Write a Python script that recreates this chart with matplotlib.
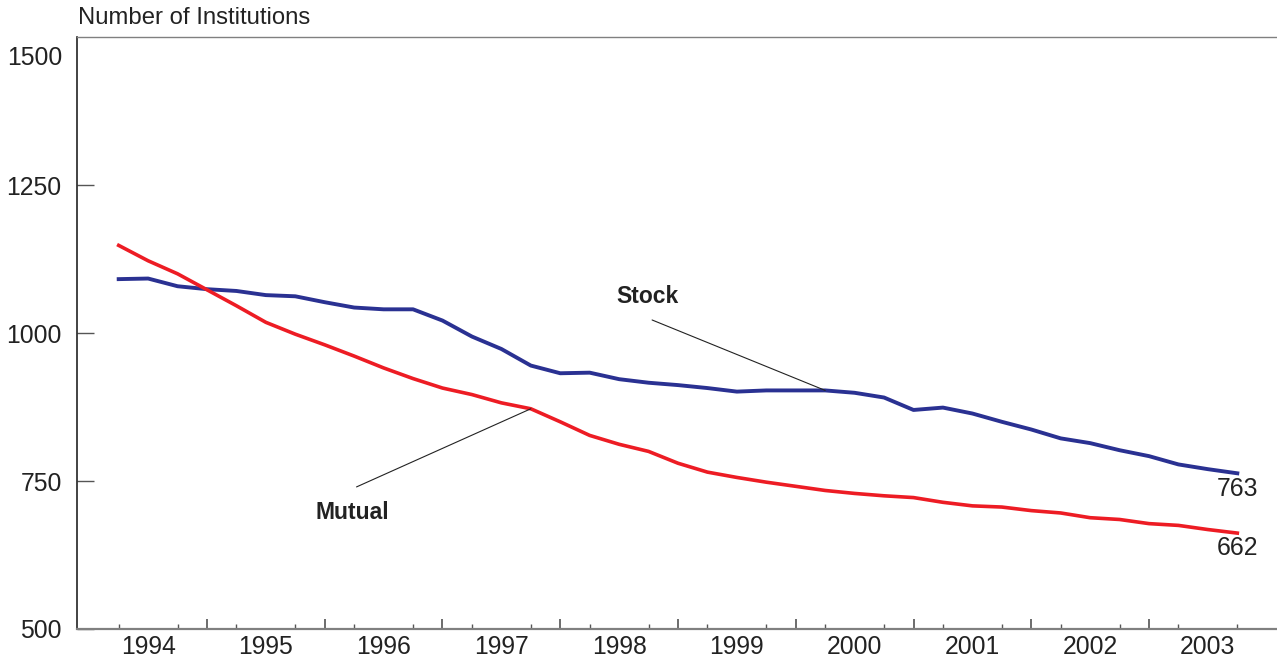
import matplotlib
matplotlib.use("Agg")
import matplotlib.pyplot as plt
import numpy as np

# quarterly data, 1994 Q1 .. 2003 Q3 (positions at quarter ends)
years = [1994, 1995, 1996, 1997, 1998, 1999, 2000, 2001, 2002, 2003]
stock = [1091, 1092, 1079, 1074, 1071, 1064, 1062, 1052, 1043, 1040,
         1040, 1021, 994, 973, 945, 932, 933, 922, 916, 912,
         907, 901, 903, 903, 903, 899, 891, 870, 874, 864,
         850, 837, 822, 814, 802, 792, 778, 770, 763]
mutual = [1148, 1122, 1100, 1073, 1046, 1018, 998, 980, 961, 941,
          923, 907, 896, 882, 872, 850, 827, 812, 800, 780,
          765, 756, 748, 741, 734, 729, 725, 722, 714, 708,
          706, 700, 696, 688, 685, 678, 675, 668, 662]
ytick_vals = [500, 750, 1000, 1250, 1500]
ylabel_text = "Number of Institutions"

t = 1994 + np.arange(1, len(stock) + 1) / 4.0

plt.rcParams['font.family'] = ['Liberation Sans', 'DejaVu Sans']
fig = plt.figure(figsize=(12.77, 6.59), dpi=100)
ax = fig.add_axes([77/1277, 1 - 629/659, 1 - 77/1277, (629 - 37)/659])

blue = '#2a3192'
red = '#ed1c24'
ax.plot(t, stock, color=blue, lw=2.8, solid_joinstyle='round')
ax.plot(t, mutual, color=red, lw=2.6, solid_joinstyle='round')

ax.set_xlim(1993.896, 2004.087)
ax.set_ylim(500, 1500)

# spines
ax.spines['right'].set_visible(False)
ax.spines['top'].set_color('#808080')
ax.spines['top'].set_linewidth(1.0)
ax.spines['bottom'].set_color('#808080')
ax.spines['bottom'].set_linewidth(1.6)
ax.spines['left'].set_color('#222222')
ax.spines['left'].set_linewidth(1.2)

tfs = 17.8
# y axis
ax.set_yticks(ytick_vals[:-1])
ax.set_yticklabels([str(v) for v in ytick_vals[:-1]], fontsize=tfs, color='#222222')
ax.tick_params(axis='y', direction='in', length=12, width=1.0, color='#555555', pad=11)
ax.text(-0.012, 1464, str(ytick_vals[-1]), transform=ax.get_yaxis_transform(),
        ha='right', va='center', fontsize=tfs, color='#222222')

# x axis: year labels centered, quarter minor ticks, year-boundary ticks
mids = [y + 0.5 for y in years]
ax.set_xticks(mids)
ax.set_xticklabels([str(y) for y in years], fontsize=tfs, color='#222222')
ax.tick_params(axis='x', which='major', length=0, pad=4)
quarters = [y + q / 4.0 for y in years for q in (1, 2, 3)]
ax.set_xticks(quarters, minor=True)
ax.tick_params(axis='x', which='minor', direction='in', length=3.5, width=1.0, color='#555555')

sec = ax.secondary_xaxis('bottom')
sec.set_xticks([y for y in years[1:]])
sec.set_xticklabels([])
sec.tick_params(axis='x', direction='in', length=7, width=1.1, color='#444444')
sec.spines['bottom'].set_visible(False)

# y-axis title
fig.text(78/1277, 1 - 18/659, ylabel_text, ha='left', va='center', fontsize=17.2, color='#222222')

# annotations: label text and leader lines
qi_s = 24
ax.text(1998.745, 1061, 'Stock', ha='center', va='center', fontsize=16.5,
        fontweight='bold', color='#222222')
ax.annotate('', xy=(t[qi_s], stock[qi_s]), xytext=(1998.78, 1022),
            arrowprops=dict(arrowstyle='-', color='#222222', lw=0.8,
                            shrinkA=0, shrinkB=0))
qi_m = 14
ax.text(1996.23, 697, 'Mutual', ha='center', va='center', fontsize=16.5,
        fontweight='bold', color='#222222')
ax.annotate('', xy=(t[qi_m], mutual[qi_m]), xytext=(1996.27, 740),
            arrowprops=dict(arrowstyle='-', color='#222222', lw=0.8,
                            shrinkA=0, shrinkB=0))

ax.annotate(str(stock[-1]), xy=(t[-1], stock[-1]), xytext=(0, -11.5),
            textcoords='offset points', ha='center', va='center', fontsize=tfs, color='#222222')
ax.annotate(str(mutual[-1]), xy=(t[-1], mutual[-1]), xytext=(0, -11),
            textcoords='offset points', ha='center', va='center', fontsize=tfs, color='#222222')

fig.savefig('out.png', dpi=100)
